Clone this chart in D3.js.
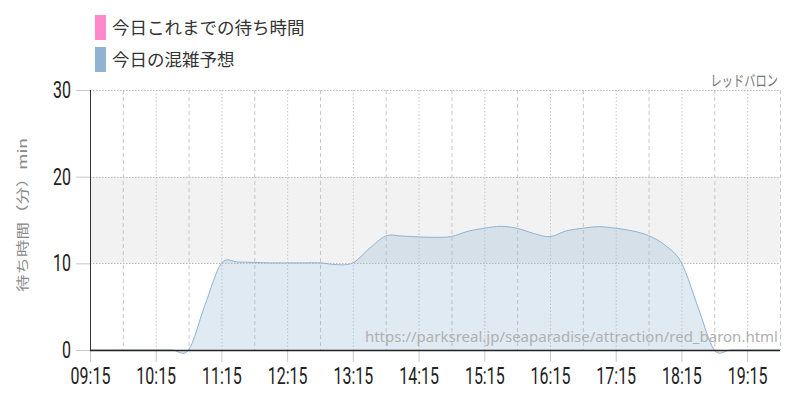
<!DOCTYPE html>
<html><head><meta charset="utf-8">
<script src="https://cdn.jsdelivr.net/npm/d3@7"></script>
<style>
html,body{margin:0;padding:0;background:#fff;}
svg{display:block;}
</style></head>
<body>
<svg id="c" width="800" height="400"></svg>
<script>
// ---- data ----
const times = ["09:15","09:30","09:45","10:00","10:15","10:30","10:45","11:00","11:15","11:30","11:45","12:00","12:15","12:30","12:45","13:00","13:15","13:30","13:45","14:00","14:15","14:30","14:45","15:00","15:15","15:30","15:45","16:00","16:15","16:30","16:45","17:00","17:15","17:30","17:45","18:00","18:15","18:30","18:45","19:00","19:15","19:30","19:45"];
const forecast = [0,0,0,0,0,0,0,5.2,10.0,10.15,10.1,10.05,10.05,10.05,10.05,9.85,10.05,11.7,13.15,13.15,13.05,13.0,13.1,13.7,14.05,14.27,14.04,13.45,13.08,13.75,14.05,14.23,14.05,13.75,13.2,12.1,10.07,5,0,0,0,0,0];
const xTickLabels = ["09:15","10:15","11:15","12:15","13:15","14:15","15:15","16:15","17:15","18:15","19:15"];
const yTicks = [0,10,20,30];
const legendLabels = ["今日これまでの待ち時間","今日の混雑予想"];
const legendColors = ["#ff88cc","#8fb3d1"];
const attractionName = "レッドバロン";
const sourceUrl = "https://parksreal.jp/seaparadise/attraction/red_baron.html";
const yTitle = "待ち時間（分）min";

// ---- setup ----
const toMin = s => { const [h,m] = s.split(":").map(Number); return h*60+m; };
const svg = d3.select("#c");
const L = 90, R = 780, T = 90, B = 350;
const x = d3.scaleLinear().domain([toMin("09:15"), toMin("19:45")]).range([L, R]);
const y = d3.scaleLinear().domain([0, 30]).range([B, T]);

// band 10-20
svg.append("rect").attr("x", L).attr("width", R - L)
  .attr("y", y(20)).attr("height", y(10) - y(20)).attr("fill", "#f2f2f2");

// vertical grid lines every 30 min
const gridTimes = d3.range(toMin("09:45"), toMin("19:45") + 1, 30);
svg.append("g").selectAll("line").data(gridTimes).join("line")
  .attr("x1", d => x(d) + 0.5).attr("x2", d => x(d) + 0.5)
  .attr("y1", T).attr("y2", B)
  .attr("stroke", "#c8c8c8").attr("stroke-width", 1)
  .attr("stroke-dasharray", d => ((d - toMin("09:15")) % 60 === 0) ? "1.5,2" : "4,3");

// horizontal grid lines
svg.append("g").selectAll("line").data(yTicks.filter(v => v > 0)).join("line")
  .attr("x1", L).attr("x2", R)
  .attr("y1", d => Math.round(y(d)) + 0.5).attr("y2", d => Math.round(y(d)) + 0.5)
  .attr("stroke", "#bbb").attr("stroke-width", 1).attr("stroke-dasharray", "1.5,1.5");

// area
const pts = times.map((t, i) => [toMin(t), forecast[i]]);
const area = d3.area().x(d => x(d[0])).y0(y(0)).y1(d => y(d[1])).curve(d3.curveCardinal.tension(0));
const line = d3.line().x(d => x(d[0])).y(d => y(d[1])).curve(d3.curveCardinal.tension(0));
svg.append("path").datum(pts).attr("d", area).attr("fill", "rgba(143,179,209,0.28)");
svg.append("path").datum(pts).attr("d", line).attr("fill", "none").attr("stroke", "#8fb3d1").attr("stroke-width", 1);

// source url
svg.append("text").attr("x", 778).attr("y", 342).attr("text-anchor", "end")
  .attr("font-family", "'Noto Sans', sans-serif").attr("font-size", 15).attr("fill", "#b0b0b0")
  .text(sourceUrl);

// axes
const xAxis = d3.axisBottom(x).tickValues(xTickLabels.map(toMin))
  .tickFormat((d, i) => xTickLabels[i]).tickSize(12).tickPadding(5);
const gx = svg.append("g").attr("transform", `translate(0,${B})`).call(xAxis);
gx.select(".domain").remove();
gx.selectAll(".tick line").attr("stroke", "#c8c8c8");
gx.selectAll(".tick text").attr("font-family", "Roboto, sans-serif").attr("font-size", 23.5)
  .attr("fill", "#222").attr("transform", "scale(0.68,1)").attr("dy", "0.71em").attr("y", 17);

const yAxis = d3.axisLeft(y).tickValues(yTicks).tickSize(14).tickPadding(5);
const gy = svg.append("g").attr("transform", `translate(${L},0)`).call(yAxis);
gy.select(".domain").remove();
gy.selectAll(".tick line").attr("stroke", "#c8c8c8");
gy.selectAll(".tick text").attr("font-family", "Roboto, sans-serif").attr("font-size", 23.5)
  .attr("fill", "#222").attr("x", -19 / 0.68).attr("transform", "scale(0.68,1)");

// axis lines
svg.append("line").attr("x1", L + 0.5).attr("x2", L + 0.5).attr("y1", T).attr("y2", B)
  .attr("stroke", "#333").attr("stroke-width", 1);
svg.append("line").attr("x1", L).attr("x2", R).attr("y1", B + 0.5).attr("y2", B + 0.5)
  .attr("stroke", "#222").attr("stroke-width", 1.5);

// y title
svg.append("text").attr("transform", "translate(23,215) rotate(-90) scale(1,0.72)")
  .attr("text-anchor", "middle").attr("dy", "0.35em")
  .attr("font-family", "'Noto Sans CJK JP', sans-serif").attr("font-size", 17.5).attr("fill", "#888")
  .text(yTitle);

// attraction name
svg.append("text").attr("transform", "translate(778,86) scale(0.75,1)")
  .attr("text-anchor", "end")
  .attr("font-family", "'Noto Sans CJK JP', sans-serif").attr("font-size", 15).attr("fill", "#777")
  .text(attractionName);

// legend
const lg = svg.append("g").selectAll("g").data(legendLabels).join("g")
  .attr("transform", (d, i) => `translate(95,${15 + i * 32})`);
lg.append("rect").attr("width", 11).attr("height", 25).attr("fill", (d, i) => legendColors[i]);
lg.append("text").attr("x", 17).attr("y", 13).attr("dy", "0.35em")
  .attr("font-family", "'Noto Sans CJK JP', sans-serif").attr("font-size", 17.5).attr("fill", "#333")
  .text(d => d);
</script>
</body></html>
